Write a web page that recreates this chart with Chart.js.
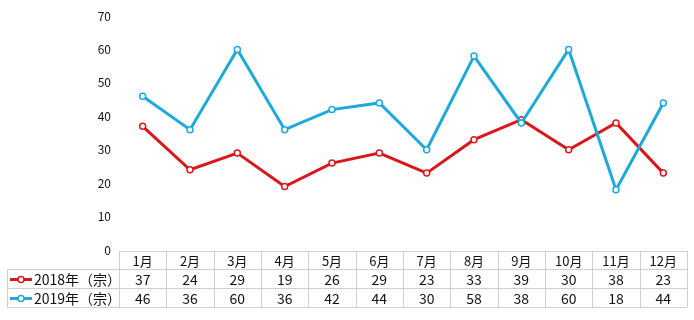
<!DOCTYPE html>
<html>
<head>
<meta charset="utf-8">
<script src="https://cdn.jsdelivr.net/npm/chart.js@4"></script>
<style>
html,body{margin:0;padding:0;background:#fff;}
#wrap{width:694px;height:320px;position:relative;}
</style>
</head>
<body>
<div id="wrap"><canvas id="c" width="694" height="320"></canvas></div>
<script>
const months = ['1月','2月','3月','4月','5月','6月','7月','8月','9月','10月','11月','12月'];
const series2018 = [37,24,29,19,26,29,23,33,39,30,38,23];
const series2019 = [46,36,60,36,42,44,30,58,38,60,18,44];
const seriesNames = ['2018年（宗）','2019年（宗）'];
const seriesColors = ['#d9181d','#1ea9d9'];
const yMin = 0, yMax = 70, yStep = 10;

const FONT = '"Noto Sans CJK JP","Noto Sans CJK SC",sans-serif';

const tablePlugin = {
  id: 'dataTable',
  afterDraw(chart) {
    const ctx = chart.ctx;
    const xs = chart.scales.x;
    const area = chart.chartArea;
    const left = area.left, right = area.right;
    const top = area.bottom + 1;
    const rowH = [18, 19, 19];
    const rows = [top, top + rowH[0], top + rowH[0] + rowH[1], top + rowH[0] + rowH[1] + rowH[2]];
    const legendLeft = 7;
    const n = months.length;
    const colW = (right - left) / n;
    ctx.save();
    ctx.strokeStyle = '#cfcfcf';
    ctx.lineWidth = 1;
    ctx.beginPath();
    // horizontal lines
    ctx.moveTo(left, rows[0] + 0.5); ctx.lineTo(right, rows[0] + 0.5);
    for (let r = 1; r < 4; r++) {
      ctx.moveTo(legendLeft, Math.round(rows[r]) + 0.5);
      ctx.lineTo(right, Math.round(rows[r]) + 0.5);
    }
    // vertical lines
    for (let i = 0; i <= n; i++) {
      const x = Math.round(left + i * colW) + 0.5;
      ctx.moveTo(x, rows[0]); ctx.lineTo(x, rows[3]);
    }
    ctx.moveTo(legendLeft + 0.5, rows[1]); ctx.lineTo(legendLeft + 0.5, rows[3]);
    ctx.stroke();

    ctx.fillStyle = '#111';
    ctx.textAlign = 'center';
    ctx.textBaseline = 'middle';
    ctx.font = '13px ' + FONT;
    months.forEach((m, i) => {
      const x = xs.getPixelForValue(i);
      ctx.fillText(m, x, (rows[0] + rows[1]) / 2 + 1);
    });
    const data = [series2018, series2019];
    ctx.font = '14px ' + FONT;
    data.forEach((arr, s) => {
      const cy = (rows[s + 1] + rows[s + 2]) / 2 + 1;
      arr.forEach((v, i) => {
        ctx.fillText(String(v), xs.getPixelForValue(i), cy);
      });
      // legend
      const c = seriesColors[s];
      ctx.strokeStyle = c;
      ctx.lineWidth = 3;
      ctx.beginPath();
      ctx.moveTo(10, cy); ctx.lineTo(32, cy);
      ctx.stroke();
      ctx.beginPath();
      ctx.arc(21, cy, 3, 0, Math.PI * 2);
      ctx.fillStyle = '#fff';
      ctx.fill();
      ctx.lineWidth = 1.5;
      ctx.stroke();
      ctx.fillStyle = '#111';
      ctx.textAlign = 'left';
      ctx.font = '14px ' + FONT;
      ctx.fillText(seriesNames[s], 34, cy);
      ctx.textAlign = 'center';
    });
    ctx.restore();
  }
};

new Chart(document.getElementById('c'), {
  type: 'line',
  data: {
    labels: months,
    datasets: [
      {
        label: seriesNames[0], data: series2018, order: 1,
        borderColor: seriesColors[0], backgroundColor: '#fff',
        borderWidth: 3, pointRadius: 3, pointBorderWidth: 1.5,
        pointBackgroundColor: '#fff', pointBorderColor: seriesColors[0], tension: 0
      },
      {
        label: seriesNames[1], data: series2019, order: 0,
        borderColor: seriesColors[1], backgroundColor: '#fff',
        borderWidth: 3, pointRadius: 3, pointBorderWidth: 1.5,
        pointBackgroundColor: '#fff', pointBorderColor: seriesColors[1], tension: 0
      }
    ]
  },
  options: {
    responsive: false,
    animation: false,
    events: [],
    layout: { padding: { top: 16, bottom: 70, left: 0, right: 7 } },
    plugins: { legend: { display: false }, tooltip: { enabled: false } },
    scales: {
      x: { display: false, offset: true },
      y: {
        min: yMin, max: yMax,
        border: { display: false },
        grid: { display: false, drawTicks: false },
        ticks: { stepSize: yStep, padding: 8, color: '#111', font: { size: 12, family: FONT } },
        afterFit(scale) { scale.width = 119; }
      }
    }
  },
  plugins: [tablePlugin]
});
</script>
</body>
</html>
